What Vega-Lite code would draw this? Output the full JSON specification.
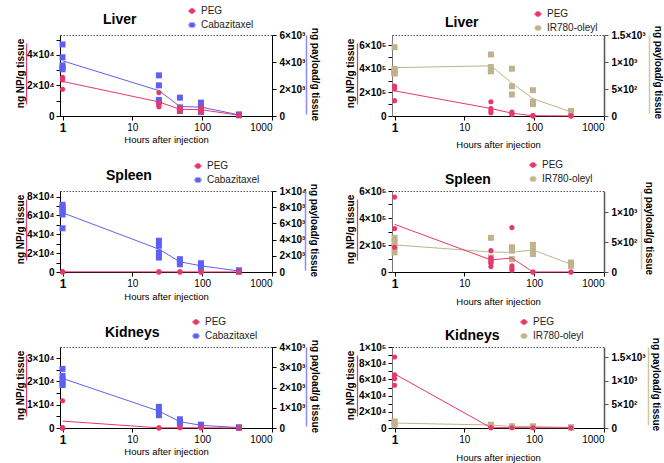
{
  "$schema": "https://vega.github.io/schema/vega-lite/v6.json",
  "autosize": {"type": "none"},
  "padding": {"left": 60, "top": 35, "right": 604, "bottom": 428},
  "background": "white",
  "bounds": "flush",
  "columns": 2,
  "spacing": {"row": 75, "column": 120},
  "data": {"values": [
    {"p":"LC","s":"PEG","h":1,"v":25400},{"p":"LC","s":"PEG","h":1,"v":24000},{"p":"LC","s":"PEG","h":1,"v":23600},{"p":"LC","s":"PEG","h":1,"v":17500},
    {"p":"LC","s":"PEG","h":24,"v":15300},{"p":"LC","s":"PEG","h":24,"v":8300},{"p":"LC","s":"PEG","h":24,"v":7200},{"p":"LC","s":"PEG","h":24,"v":6100},
    {"p":"LC","s":"PEG","h":48,"v":5700},{"p":"LC","s":"PEG","h":48,"v":4800},{"p":"LC","s":"PEG","h":48,"v":3900},{"p":"LC","s":"PEG","h":48,"v":3000},
    {"p":"LC","s":"PEG","h":96,"v":5700},{"p":"LC","s":"PEG","h":96,"v":4800},{"p":"LC","s":"PEG","h":96,"v":3500},{"p":"LC","s":"PEG","h":96,"v":2600},
    {"p":"LC","s":"PEG","h":336,"v":400},{"p":"LC","s":"PEG","h":336,"v":600},{"p":"LC","s":"PEG","h":336,"v":500},
    {"p":"LC","s":"Cabazitaxel","h":1,"v":5300},{"p":"LC","s":"Cabazitaxel","h":1,"v":4350},{"p":"LC","s":"Cabazitaxel","h":1,"v":3750},{"p":"LC","s":"Cabazitaxel","h":1,"v":3580},{"p":"LC","s":"Cabazitaxel","h":1,"v":3460},
    {"p":"LC","s":"Cabazitaxel","h":24,"v":3010},{"p":"LC","s":"Cabazitaxel","h":24,"v":2270},{"p":"LC","s":"Cabazitaxel","h":24,"v":1190},{"p":"LC","s":"Cabazitaxel","h":24,"v":1060},
    {"p":"LC","s":"Cabazitaxel","h":48,"v":1360},{"p":"LC","s":"Cabazitaxel","h":48,"v":640},{"p":"LC","s":"Cabazitaxel","h":48,"v":440},{"p":"LC","s":"Cabazitaxel","h":48,"v":370},
    {"p":"LC","s":"Cabazitaxel","h":96,"v":990},{"p":"LC","s":"Cabazitaxel","h":96,"v":690},{"p":"LC","s":"Cabazitaxel","h":96,"v":300},
    {"p":"LC","s":"Cabazitaxel","h":336,"v":120},{"p":"LC","s":"Cabazitaxel","h":336,"v":50},

    {"p":"LI","s":"PEG","h":1,"v":254000},{"p":"LI","s":"PEG","h":1,"v":239000},{"p":"LI","s":"PEG","h":1,"v":228000},{"p":"LI","s":"PEG","h":1,"v":130000},
    {"p":"LI","s":"PEG","h":24,"v":121000},{"p":"LI","s":"PEG","h":24,"v":62000},{"p":"LI","s":"PEG","h":24,"v":42000},{"p":"LI","s":"PEG","h":24,"v":28000},
    {"p":"LI","s":"PEG","h":48,"v":34000},{"p":"LI","s":"PEG","h":48,"v":23000},{"p":"LI","s":"PEG","h":48,"v":14000},
    {"p":"LI","s":"PEG","h":96,"v":3000},{"p":"LI","s":"PEG","h":96,"v":1500},{"p":"LI","s":"PEG","h":96,"v":2000},
    {"p":"LI","s":"PEG","h":336,"v":500},{"p":"LI","s":"PEG","h":336,"v":800},
    {"p":"LI","s":"IR780-oleyl","h":1,"v":1274},{"p":"LI","s":"IR780-oleyl","h":1,"v":870},{"p":"LI","s":"IR780-oleyl","h":1,"v":840},{"p":"LI","s":"IR780-oleyl","h":1,"v":810},{"p":"LI","s":"IR780-oleyl","h":1,"v":790},{"p":"LI","s":"IR780-oleyl","h":1,"v":790},
    {"p":"LI","s":"IR780-oleyl","h":24,"v":1139},{"p":"LI","s":"IR780-oleyl","h":24,"v":906},{"p":"LI","s":"IR780-oleyl","h":24,"v":845},{"p":"LI","s":"IR780-oleyl","h":24,"v":827},
    {"p":"LI","s":"IR780-oleyl","h":48,"v":876},{"p":"LI","s":"IR780-oleyl","h":48,"v":551},{"p":"LI","s":"IR780-oleyl","h":48,"v":398},
    {"p":"LI","s":"IR780-oleyl","h":96,"v":478},{"p":"LI","s":"IR780-oleyl","h":96,"v":263},{"p":"LI","s":"IR780-oleyl","h":96,"v":220},
    {"p":"LI","s":"IR780-oleyl","h":336,"v":92},{"p":"LI","s":"IR780-oleyl","h":336,"v":61},

    {"p":"SC","s":"PEG","h":1,"v":300},{"p":"SC","s":"PEG","h":1,"v":200},{"p":"SC","s":"PEG","h":1,"v":100},
    {"p":"SC","s":"PEG","h":24,"v":200},{"p":"SC","s":"PEG","h":24,"v":100},
    {"p":"SC","s":"PEG","h":48,"v":100},{"p":"SC","s":"PEG","h":48,"v":200},
    {"p":"SC","s":"PEG","h":96,"v":100},{"p":"SC","s":"PEG","h":96,"v":50},
    {"p":"SC","s":"PEG","h":336,"v":100},{"p":"SC","s":"PEG","h":336,"v":50},
    {"p":"SC","s":"Cabazitaxel","h":1,"v":8300},{"p":"SC","s":"Cabazitaxel","h":1,"v":8000},{"p":"SC","s":"Cabazitaxel","h":1,"v":7700},{"p":"SC","s":"Cabazitaxel","h":1,"v":7400},{"p":"SC","s":"Cabazitaxel","h":1,"v":7100},{"p":"SC","s":"Cabazitaxel","h":1,"v":5400},
    {"p":"SC","s":"Cabazitaxel","h":24,"v":3860},{"p":"SC","s":"Cabazitaxel","h":24,"v":3240},{"p":"SC","s":"Cabazitaxel","h":24,"v":2410},{"p":"SC","s":"Cabazitaxel","h":24,"v":1780},
    {"p":"SC","s":"Cabazitaxel","h":48,"v":1580},{"p":"SC","s":"Cabazitaxel","h":48,"v":1245},{"p":"SC","s":"Cabazitaxel","h":48,"v":950},
    {"p":"SC","s":"Cabazitaxel","h":96,"v":1080},{"p":"SC","s":"Cabazitaxel","h":96,"v":750},{"p":"SC","s":"Cabazitaxel","h":96,"v":460},
    {"p":"SC","s":"Cabazitaxel","h":336,"v":210},{"p":"SC","s":"Cabazitaxel","h":336,"v":40},

    {"p":"SI","s":"PEG","h":1,"v":555000},{"p":"SI","s":"PEG","h":1,"v":322000},{"p":"SI","s":"PEG","h":1,"v":183000},
    {"p":"SI","s":"PEG","h":24,"v":158000},{"p":"SI","s":"PEG","h":24,"v":103000},{"p":"SI","s":"PEG","h":24,"v":83000},{"p":"SI","s":"PEG","h":24,"v":63000},{"p":"SI","s":"PEG","h":24,"v":40000},
    {"p":"SI","s":"PEG","h":48,"v":329000},{"p":"SI","s":"PEG","h":48,"v":45000},{"p":"SI","s":"PEG","h":48,"v":28000},{"p":"SI","s":"PEG","h":48,"v":13000},
    {"p":"SI","s":"PEG","h":96,"v":500},{"p":"SI","s":"PEG","h":96,"v":300},
    {"p":"SI","s":"PEG","h":336,"v":300},{"p":"SI","s":"PEG","h":336,"v":200},
    {"p":"SI","s":"IR780-oleyl","h":1,"v":574},{"p":"SI","s":"IR780-oleyl","h":1,"v":500},{"p":"SI","s":"IR780-oleyl","h":1,"v":415},{"p":"SI","s":"IR780-oleyl","h":1,"v":330},
    {"p":"SI","s":"IR780-oleyl","h":24,"v":574},{"p":"SI","s":"IR780-oleyl","h":24,"v":244},{"p":"SI","s":"IR780-oleyl","h":24,"v":188},
    {"p":"SI","s":"IR780-oleyl","h":48,"v":415},{"p":"SI","s":"IR780-oleyl","h":48,"v":358},{"p":"SI","s":"IR780-oleyl","h":48,"v":216},
    {"p":"SI","s":"IR780-oleyl","h":96,"v":455},{"p":"SI","s":"IR780-oleyl","h":96,"v":358},{"p":"SI","s":"IR780-oleyl","h":96,"v":301},
    {"p":"SI","s":"IR780-oleyl","h":336,"v":159},{"p":"SI","s":"IR780-oleyl","h":336,"v":102},

    {"p":"KC","s":"PEG","h":1,"v":11700},{"p":"KC","s":"PEG","h":1,"v":50},{"p":"KC","s":"PEG","h":1,"v":50},{"p":"KC","s":"PEG","h":1,"v":50},
    {"p":"KC","s":"PEG","h":24,"v":100},{"p":"KC","s":"PEG","h":24,"v":50},
    {"p":"KC","s":"PEG","h":48,"v":100},{"p":"KC","s":"PEG","h":96,"v":100},{"p":"KC","s":"PEG","h":336,"v":50},
    {"p":"KC","s":"Cabazitaxel","h":1,"v":2920},{"p":"KC","s":"Cabazitaxel","h":1,"v":2570},{"p":"KC","s":"Cabazitaxel","h":1,"v":2420},{"p":"KC","s":"Cabazitaxel","h":1,"v":2210},{"p":"KC","s":"Cabazitaxel","h":1,"v":2120},
    {"p":"KC","s":"Cabazitaxel","h":24,"v":1045},{"p":"KC","s":"Cabazitaxel","h":24,"v":830},{"p":"KC","s":"Cabazitaxel","h":24,"v":630},
    {"p":"KC","s":"Cabazitaxel","h":48,"v":430},{"p":"KC","s":"Cabazitaxel","h":48,"v":300},{"p":"KC","s":"Cabazitaxel","h":48,"v":215},
    {"p":"KC","s":"Cabazitaxel","h":96,"v":165},{"p":"KC","s":"Cabazitaxel","h":96,"v":100},
    {"p":"KC","s":"Cabazitaxel","h":336,"v":35},{"p":"KC","s":"Cabazitaxel","h":336,"v":10},

    {"p":"KI","s":"PEG","h":1,"v":87700},{"p":"KI","s":"PEG","h":1,"v":65800},{"p":"KI","s":"PEG","h":1,"v":60900},{"p":"KI","s":"PEG","h":1,"v":52700},
    {"p":"KI","s":"PEG","h":24,"v":500},{"p":"KI","s":"PEG","h":24,"v":300},
    {"p":"KI","s":"PEG","h":48,"v":400},{"p":"KI","s":"PEG","h":96,"v":300},{"p":"KI","s":"PEG","h":336,"v":200},
    {"p":"KI","s":"IR780-oleyl","h":1,"v":140},{"p":"KI","s":"IR780-oleyl","h":1,"v":105},{"p":"KI","s":"IR780-oleyl","h":1,"v":70},
    {"p":"KI","s":"IR780-oleyl","h":24,"v":70},{"p":"KI","s":"IR780-oleyl","h":24,"v":57},
    {"p":"KI","s":"IR780-oleyl","h":48,"v":35},{"p":"KI","s":"IR780-oleyl","h":48,"v":30},
    {"p":"KI","s":"IR780-oleyl","h":96,"v":35},{"p":"KI","s":"IR780-oleyl","h":96,"v":25},
    {"p":"KI","s":"IR780-oleyl","h":336,"v":14},{"p":"KI","s":"IR780-oleyl","h":336,"v":10}
  ]},
  "concat": [
    {
      "title": {"text": "Liver", "dx": 43, "offset": -21},
      "width": 212, "height": 81,
      "transform": [{"filter": "datum.p == 'LC'"}],
      "encoding": {
        "x": {"field": "h", "type": "quantitative", "scale": {"type": "log", "domain": [0.92, 1000]}, "axis": {"values": [1, 10, 100, 1000], "format": "d", "title": "Hours after injection", "titleX": 106, "titleY": 26, "titleBaseline": "alphabetic", "titleFontWeight": "normal", "titleFontSize": 9.5, "labelFontWeight": {"condition": {"test": "datum.value == 1", "value": "bold"}, "value": "normal"}, "labelFontSize": {"condition": {"test": "datum.value == 1", "value": 12}, "value": 10}}},
        "color": {"field": "s", "type": "nominal", "scale": {"domain": ["PEG", "Cabazitaxel"], "range": ["#E8386B", "#5F5FF2"]},
          "legend": {"title": null, "orient": "none", "legendX": 127, "legendY": -29,
            "encode": {"symbols": {"update": {
              "shape": {"signal": "datum.value == 'PEG' ? 'M-1,0L1,0M0.55,0A0.55,0.55,0,1,1,-0.55,0A0.55,0.55,0,1,1,0.55,0Z' : 'M-1,0L1,0M-0.5,-0.5L0.5,-0.5L0.5,0.5L-0.5,0.5Z'"},
              "fill": {"signal": "datum.value == 'PEG' ? '#E8386B' : datum.value == 'Cabazitaxel' ? '#5F5FF2' : '#BFB28C'"},
              "stroke": {"signal": "datum.value == 'PEG' ? '#E8386B' : datum.value == 'Cabazitaxel' ? '#5F5FF2' : '#BFB28C'"},
              "strokeWidth": {"value": 1.2}, "opacity": {"value": 1}}}}}}
      },
      "layer": [
        {"transform": [{"filter": "datum.s != 'PEG'"}], "mark": {"type": "line", "strokeWidth": 1}, "encoding": {"y": {"aggregate": "mean", "field": "v", "type": "quantitative", "scale": {"domain": [0, 6000]}, "axis": null}}},
        {"transform": [{"filter": "datum.s != 'PEG'"}], "mark": {"type": "point", "shape": "square", "filled": true, "opacity": 1, "size": 36}, "encoding": {"y": {"field": "v", "type": "quantitative", "scale": {"domain": [0, 6000]}, "axis": {"orient": "right", "values": [0, 2000, 4000, 6000], "labelPadding": 3, "labelExpr": "datum.value == 0 ? '0' : datum.value / 1000 + '×10³'", "title": "ng payload/g tissue", "titleAngle": 90, "titleX": 37, "titleY": 39}}}},
        {"transform": [{"filter": "datum.s == 'PEG'"}], "mark": {"type": "line", "strokeWidth": 1}, "encoding": {"y": {"aggregate": "mean", "field": "v", "type": "quantitative", "scale": {"domain": [0, 53000]}, "axis": null}}},
        {"transform": [{"filter": "datum.s == 'PEG'"}], "mark": {"type": "point", "shape": "circle", "filled": true, "opacity": 1, "size": 26}, "encoding": {"y": {"field": "v", "type": "quantitative", "scale": {"domain": [0, 53000]}, "axis": {"orient": "left", "values": [0, 10000, 20000, 30000, 40000, 50000], "labelExpr": "datum.value % 20000 == 0 ? (datum.value == 0 ? '0' : datum.value / 10000 + '×10⁴') : ''", "title": "ng NP/g tissue", "titleAngle": -90, "titleX": -35, "titleY": 38}}}},
        {"transform": [{"filter": "datum.s == 'PEG'"}], "mark": {"type": "point", "opacity": 0}, "encoding": {"y": {"field": "v", "type": "quantitative", "scale": {"range": [69, 8]}, "axis": {"orient": "left", "offset": 34, "domainColor": "#E8386B", "domainWidth": 1.2, "ticks": false, "labels": false, "title": null}}}},
        {"transform": [{"filter": "datum.s == 'PEG'"}], "mark": {"type": "point", "opacity": 0}, "encoding": {"y": {"field": "v", "type": "quantitative", "scale": {"range": [79, 0]}, "axis": {"orient": "right", "offset": 34, "domainColor": "#8A8AF8", "domainWidth": 1.5, "ticks": false, "labels": false, "title": null}}}}
      ],
      "resolve": {"scale": {"y": "independent"}, "axis": {"y": "independent"}}
    },
    {
      "title": {"text": "Liver", "dx": 53, "offset": -21},
      "width": 212, "height": 81,
      "transform": [{"filter": "datum.p == 'LI'"}],
      "encoding": {
        "x": {"field": "h", "type": "quantitative", "scale": {"type": "log", "domain": [0.92, 1000]}, "axis": {"values": [1, 10, 100, 1000], "format": "d", "title": "Hours after injection", "titleX": 106, "titleY": 31, "titleBaseline": "alphabetic", "titleFontWeight": "normal", "titleFontSize": 9.5, "labelFontWeight": {"condition": {"test": "datum.value == 1", "value": "bold"}, "value": "normal"}, "labelFontSize": {"condition": {"test": "datum.value == 1", "value": 12}, "value": 10}}},
        "color": {"field": "s", "type": "nominal", "scale": {"domain": ["PEG", "IR780-oleyl"], "range": ["#E8386B", "#BFB28C"]},
          "legend": {"title": null, "orient": "none", "legendX": 141, "legendY": -26,
            "encode": {"symbols": {"update": {
              "shape": {"signal": "datum.value == 'PEG' ? 'M-1,0L1,0M0.55,0A0.55,0.55,0,1,1,-0.55,0A0.55,0.55,0,1,1,0.55,0Z' : 'M-1,0L1,0M-0.5,-0.5L0.5,-0.5L0.5,0.5L-0.5,0.5Z'"},
              "fill": {"signal": "datum.value == 'PEG' ? '#E8386B' : datum.value == 'Cabazitaxel' ? '#5F5FF2' : '#BFB28C'"},
              "stroke": {"signal": "datum.value == 'PEG' ? '#E8386B' : datum.value == 'Cabazitaxel' ? '#5F5FF2' : '#BFB28C'"},
              "strokeWidth": {"value": 1.2}, "opacity": {"value": 1}}}}}}
      },
      "layer": [
        {"transform": [{"filter": "datum.s != 'PEG'"}], "mark": {"type": "line", "strokeWidth": 1}, "encoding": {"y": {"aggregate": "mean", "field": "v", "type": "quantitative", "scale": {"domain": [0, 1500]}, "axis": null}}},
        {"transform": [{"filter": "datum.s != 'PEG'"}], "mark": {"type": "point", "shape": "square", "filled": true, "opacity": 1, "size": 36}, "encoding": {"y": {"field": "v", "type": "quantitative", "scale": {"domain": [0, 1500]}, "axis": {"orient": "right", "values": [0, 500, 1000, 1500], "labelPadding": 3, "domainColor": "#555", "domainWidth": 1.5, "tickColor": "#555", "labelExpr": "datum.value == 0 ? '0' : datum.value == 500 ? '5×10²' : datum.value == 1000 ? '1×10³' : '1.5×10³'", "title": "ng payload/g tissue", "titleAngle": 90, "titleX": 48, "titleY": 37}}}},
        {"transform": [{"filter": "datum.s == 'PEG'"}], "mark": {"type": "line", "strokeWidth": 1}, "encoding": {"y": {"aggregate": "mean", "field": "v", "type": "quantitative", "scale": {"domain": [0, 685000]}, "axis": null}}},
        {"transform": [{"filter": "datum.s == 'PEG'"}], "mark": {"type": "point", "shape": "circle", "filled": true, "opacity": 1, "size": 26}, "encoding": {"y": {"field": "v", "type": "quantitative", "scale": {"domain": [0, 685000]}, "axis": {"orient": "left", "domainColor": "#777", "values": [0, 100000, 200000, 300000, 400000, 500000, 600000], "labelExpr": "datum.value % 200000 == 0 ? (datum.value == 0 ? '0' : datum.value / 100000 + '×10⁵') : ''", "title": "ng NP/g tissue", "titleAngle": -90, "titleX": -37, "titleY": 38}}}},
        {"transform": [{"filter": "datum.s == 'PEG'"}], "mark": {"type": "point", "opacity": 0}, "encoding": {"y": {"field": "v", "type": "quantitative", "scale": {"range": [69, 8]}, "axis": {"orient": "left", "offset": 35, "domainColor": "#E8386B", "domainWidth": 1.2, "ticks": false, "labels": false, "title": null}}}},
        {"transform": [{"filter": "datum.s == 'PEG'"}], "mark": {"type": "point", "opacity": 0}, "encoding": {"y": {"field": "v", "type": "quantitative", "scale": {"range": [78, 0]}, "axis": {"orient": "right", "offset": 45, "domainColor": "#CFC5A5", "domainWidth": 1.5, "ticks": false, "labels": false, "title": null}}}}
      ],
      "resolve": {"scale": {"y": "independent"}, "axis": {"y": "independent"}}
    },
    {
      "title": {"text": "Spleen", "dx": 46, "offset": -22},
      "width": 212, "height": 81,
      "transform": [{"filter": "datum.p == 'SC'"}],
      "encoding": {
        "x": {"field": "h", "type": "quantitative", "scale": {"type": "log", "domain": [0.92, 1000]}, "axis": {"values": [1, 10, 100, 1000], "format": "d", "title": "Hours after injection", "titleX": 106, "titleY": 27, "titleBaseline": "alphabetic", "titleFontWeight": "normal", "titleFontSize": 9.5, "labelFontWeight": {"condition": {"test": "datum.value == 1", "value": "bold"}, "value": "normal"}, "labelFontSize": {"condition": {"test": "datum.value == 1", "value": 12}, "value": 10}}},
        "color": {"field": "s", "type": "nominal", "scale": {"domain": ["PEG", "Cabazitaxel"], "range": ["#E8386B", "#5F5FF2"]},
          "legend": {"title": null, "orient": "none", "legendX": 133, "legendY": -30,
            "encode": {"symbols": {"update": {
              "shape": {"signal": "datum.value == 'PEG' ? 'M-1,0L1,0M0.55,0A0.55,0.55,0,1,1,-0.55,0A0.55,0.55,0,1,1,0.55,0Z' : 'M-1,0L1,0M-0.5,-0.5L0.5,-0.5L0.5,0.5L-0.5,0.5Z'"},
              "fill": {"signal": "datum.value == 'PEG' ? '#E8386B' : datum.value == 'Cabazitaxel' ? '#5F5FF2' : '#BFB28C'"},
              "stroke": {"signal": "datum.value == 'PEG' ? '#E8386B' : datum.value == 'Cabazitaxel' ? '#5F5FF2' : '#BFB28C'"},
              "strokeWidth": {"value": 1.2}, "opacity": {"value": 1}}}}}}
      },
      "layer": [
        {"transform": [{"filter": "datum.s != 'PEG'"}], "mark": {"type": "line", "strokeWidth": 1}, "encoding": {"y": {"aggregate": "mean", "field": "v", "type": "quantitative", "scale": {"domain": [0, 10000]}, "axis": null}}},
        {"transform": [{"filter": "datum.s != 'PEG'"}], "mark": {"type": "point", "shape": "square", "filled": true, "opacity": 1, "size": 36}, "encoding": {"y": {"field": "v", "type": "quantitative", "scale": {"domain": [0, 10000]}, "axis": {"orient": "right", "values": [0, 2000, 4000, 6000, 8000, 10000], "labelPadding": 3, "labelExpr": "datum.value == 0 ? '0' : datum.value == 10000 ? '1×10⁴' : datum.value / 1000 + '×10³'", "title": "ng payload/g tissue", "titleAngle": 90, "titleX": 36, "titleY": 39}}}},
        {"transform": [{"filter": "datum.s == 'PEG'"}], "mark": {"type": "line", "strokeWidth": 1}, "encoding": {"y": {"aggregate": "mean", "field": "v", "type": "quantitative", "scale": {"domain": [0, 86000]}, "axis": null}}},
        {"transform": [{"filter": "datum.s == 'PEG'"}], "mark": {"type": "point", "shape": "circle", "filled": true, "opacity": 1, "size": 26}, "encoding": {"y": {"field": "v", "type": "quantitative", "scale": {"domain": [0, 86000]}, "axis": {"orient": "left", "values": [0, 10000, 20000, 30000, 40000, 50000, 60000, 70000, 80000], "labelExpr": "datum.value % 20000 == 0 ? (datum.value == 0 ? '0' : datum.value / 10000 + '×10⁴') : ''", "title": "ng NP/g tissue", "titleAngle": -90, "titleX": -35, "titleY": 38}}}},
        {"transform": [{"filter": "datum.s == 'PEG'"}], "mark": {"type": "point", "opacity": 0}, "encoding": {"y": {"field": "v", "type": "quantitative", "scale": {"range": [69, 8]}, "axis": {"orient": "left", "offset": 34, "domainColor": "#E8386B", "domainWidth": 1.2, "ticks": false, "labels": false, "title": null}}}},
        {"transform": [{"filter": "datum.s == 'PEG'"}], "mark": {"type": "point", "opacity": 0}, "encoding": {"y": {"field": "v", "type": "quantitative", "scale": {"range": [79, 0]}, "axis": {"orient": "right", "offset": 33, "domainColor": "#8A8AF8", "domainWidth": 1.5, "ticks": false, "labels": false, "title": null}}}}
      ],
      "resolve": {"scale": {"y": "independent"}, "axis": {"y": "independent"}}
    },
    {
      "title": {"text": "Spleen", "dx": 53, "offset": -27},
      "width": 212, "height": 81,
      "transform": [{"filter": "datum.p == 'SI'"}],
      "encoding": {
        "x": {"field": "h", "type": "quantitative", "scale": {"type": "log", "domain": [0.92, 1000]}, "axis": {"values": [1, 10, 100, 1000], "format": "d", "title": "Hours after injection", "titleX": 106, "titleY": 32, "titleBaseline": "alphabetic", "titleFontWeight": "normal", "titleFontSize": 9.5, "labelFontWeight": {"condition": {"test": "datum.value == 1", "value": "bold"}, "value": "normal"}, "labelFontSize": {"condition": {"test": "datum.value == 1", "value": 12}, "value": 10}}},
        "color": {"field": "s", "type": "nominal", "scale": {"domain": ["PEG", "IR780-oleyl"], "range": ["#E8386B", "#BFB28C"]},
          "legend": {"title": null, "orient": "none", "legendX": 136, "legendY": -31,
            "encode": {"symbols": {"update": {
              "shape": {"signal": "datum.value == 'PEG' ? 'M-1,0L1,0M0.55,0A0.55,0.55,0,1,1,-0.55,0A0.55,0.55,0,1,1,0.55,0Z' : 'M-1,0L1,0M-0.5,-0.5L0.5,-0.5L0.5,0.5L-0.5,0.5Z'"},
              "fill": {"signal": "datum.value == 'PEG' ? '#E8386B' : datum.value == 'Cabazitaxel' ? '#5F5FF2' : '#BFB28C'"},
              "stroke": {"signal": "datum.value == 'PEG' ? '#E8386B' : datum.value == 'Cabazitaxel' ? '#5F5FF2' : '#BFB28C'"},
              "strokeWidth": {"value": 1.2}, "opacity": {"value": 1}}}}}}
      },
      "layer": [
        {"transform": [{"filter": "datum.s != 'PEG'"}], "mark": {"type": "line", "strokeWidth": 1}, "encoding": {"y": {"aggregate": "mean", "field": "v", "type": "quantitative", "scale": {"domain": [0, 1360]}, "axis": null}}},
        {"transform": [{"filter": "datum.s != 'PEG'"}], "mark": {"type": "point", "shape": "square", "filled": true, "opacity": 1, "size": 36}, "encoding": {"y": {"field": "v", "type": "quantitative", "scale": {"domain": [0, 1360]}, "axis": {"orient": "right", "values": [0, 500, 1000], "labelPadding": 3, "domainColor": "#555", "domainWidth": 1.5, "tickColor": "#555", "labelExpr": "datum.value == 0 ? '0' : datum.value == 500 ? '5×10²' : datum.value == 1000 ? '1×10³' : '1.5×10³'", "title": "ng payload/g tissue", "titleAngle": 90, "titleX": 39, "titleY": 37}}}},
        {"transform": [{"filter": "datum.s == 'PEG'"}], "mark": {"type": "line", "strokeWidth": 1}, "encoding": {"y": {"aggregate": "mean", "field": "v", "type": "quantitative", "scale": {"domain": [0, 600000]}, "axis": null}}},
        {"transform": [{"filter": "datum.s == 'PEG'"}], "mark": {"type": "point", "shape": "circle", "filled": true, "opacity": 1, "size": 26}, "encoding": {"y": {"field": "v", "type": "quantitative", "scale": {"domain": [0, 600000]}, "axis": {"orient": "left", "domainColor": "#777", "values": [0, 100000, 200000, 300000, 400000, 500000, 600000], "labelExpr": "datum.value % 200000 == 0 ? (datum.value == 0 ? '0' : datum.value / 100000 + '×10⁵') : ''", "title": "ng NP/g tissue", "titleAngle": -90, "titleX": -37, "titleY": 38}}}},
        {"transform": [{"filter": "datum.s == 'PEG'"}], "mark": {"type": "point", "opacity": 0}, "encoding": {"y": {"field": "v", "type": "quantitative", "scale": {"range": [69, 8]}, "axis": {"orient": "left", "offset": 35, "domainColor": "#E8386B", "domainWidth": 1.2, "ticks": false, "labels": false, "title": null}}}},
        {"transform": [{"filter": "datum.s == 'PEG'"}], "mark": {"type": "point", "opacity": 0}, "encoding": {"y": {"field": "v", "type": "quantitative", "scale": {"range": [78, 0]}, "axis": {"orient": "right", "offset": 37, "domainColor": "#CFC5A5", "domainWidth": 1.5, "ticks": false, "labels": false, "title": null}}}}
      ],
      "resolve": {"scale": {"y": "independent"}, "axis": {"y": "independent"}}
    },
    {
      "title": {"text": "Kidneys", "dx": 45, "offset": -23},
      "width": 212, "height": 81,
      "transform": [{"filter": "datum.p == 'KC'"}],
      "encoding": {
        "x": {"field": "h", "type": "quantitative", "scale": {"type": "log", "domain": [0.92, 1000]}, "axis": {"values": [1, 10, 100, 1000], "format": "d", "title": "Hours after injection", "titleX": 106, "titleY": 26, "titleBaseline": "alphabetic", "titleFontWeight": "normal", "titleFontSize": 9.5, "labelFontWeight": {"condition": {"test": "datum.value == 1", "value": "bold"}, "value": "normal"}, "labelFontSize": {"condition": {"test": "datum.value == 1", "value": 12}, "value": 10}}},
        "color": {"field": "s", "type": "nominal", "scale": {"domain": ["PEG", "Cabazitaxel"], "range": ["#E8386B", "#5F5FF2"]},
          "legend": {"title": null, "orient": "none", "legendX": 131, "legendY": -30,
            "encode": {"symbols": {"update": {
              "shape": {"signal": "datum.value == 'PEG' ? 'M-1,0L1,0M0.55,0A0.55,0.55,0,1,1,-0.55,0A0.55,0.55,0,1,1,0.55,0Z' : 'M-1,0L1,0M-0.5,-0.5L0.5,-0.5L0.5,0.5L-0.5,0.5Z'"},
              "fill": {"signal": "datum.value == 'PEG' ? '#E8386B' : datum.value == 'Cabazitaxel' ? '#5F5FF2' : '#BFB28C'"},
              "stroke": {"signal": "datum.value == 'PEG' ? '#E8386B' : datum.value == 'Cabazitaxel' ? '#5F5FF2' : '#BFB28C'"},
              "strokeWidth": {"value": 1.2}, "opacity": {"value": 1}}}}}}
      },
      "layer": [
        {"transform": [{"filter": "datum.s != 'PEG'"}], "mark": {"type": "line", "strokeWidth": 1}, "encoding": {"y": {"aggregate": "mean", "field": "v", "type": "quantitative", "scale": {"domain": [0, 4000]}, "axis": null}}},
        {"transform": [{"filter": "datum.s != 'PEG'"}], "mark": {"type": "point", "shape": "square", "filled": true, "opacity": 1, "size": 36}, "encoding": {"y": {"field": "v", "type": "quantitative", "scale": {"domain": [0, 4000]}, "axis": {"orient": "right", "values": [0, 1000, 2000, 3000, 4000], "labelPadding": 3, "labelExpr": "datum.value == 0 ? '0' : datum.value / 1000 + '×10³'", "title": "ng payload/g tissue", "titleAngle": 90, "titleX": 37, "titleY": 39}}}},
        {"transform": [{"filter": "datum.s == 'PEG'"}], "mark": {"type": "line", "strokeWidth": 1}, "encoding": {"y": {"aggregate": "mean", "field": "v", "type": "quantitative", "scale": {"domain": [0, 34800]}, "axis": null}}},
        {"transform": [{"filter": "datum.s == 'PEG'"}], "mark": {"type": "point", "shape": "circle", "filled": true, "opacity": 1, "size": 26}, "encoding": {"y": {"field": "v", "type": "quantitative", "scale": {"domain": [0, 34800]}, "axis": {"orient": "left", "values": [0, 5000, 10000, 15000, 20000, 25000, 30000], "labelExpr": "datum.value % 10000 == 0 ? (datum.value == 0 ? '0' : datum.value / 10000 + '×10⁴') : ''", "title": "ng NP/g tissue", "titleAngle": -90, "titleX": -35, "titleY": 38}}}},
        {"transform": [{"filter": "datum.s == 'PEG'"}], "mark": {"type": "point", "opacity": 0}, "encoding": {"y": {"field": "v", "type": "quantitative", "scale": {"range": [69, 8]}, "axis": {"orient": "left", "offset": 34, "domainColor": "#E8386B", "domainWidth": 1.2, "ticks": false, "labels": false, "title": null}}}},
        {"transform": [{"filter": "datum.s == 'PEG'"}], "mark": {"type": "point", "opacity": 0}, "encoding": {"y": {"field": "v", "type": "quantitative", "scale": {"range": [79, 0]}, "axis": {"orient": "right", "offset": 34, "domainColor": "#8A8AF8", "domainWidth": 1.5, "ticks": false, "labels": false, "title": null}}}}
      ],
      "resolve": {"scale": {"y": "independent"}, "axis": {"y": "independent"}}
    },
    {
      "title": {"text": "Kidneys", "dx": 53, "offset": -26},
      "width": 212, "height": 81,
      "transform": [{"filter": "datum.p == 'KI'"}],
      "encoding": {
        "x": {"field": "h", "type": "quantitative", "scale": {"type": "log", "domain": [0.92, 1000]}, "axis": {"values": [1, 10, 100, 1000], "format": "d", "title": "Hours after injection", "titleX": 106, "titleY": 32, "titleBaseline": "alphabetic", "titleFontWeight": "normal", "titleFontSize": 9.5, "labelFontWeight": {"condition": {"test": "datum.value == 1", "value": "bold"}, "value": "normal"}, "labelFontSize": {"condition": {"test": "datum.value == 1", "value": 12}, "value": 10}}},
        "color": {"field": "s", "type": "nominal", "scale": {"domain": ["PEG", "IR780-oleyl"], "range": ["#E8386B", "#BFB28C"]},
          "legend": {"title": null, "orient": "none", "legendX": 127, "legendY": -30,
            "encode": {"symbols": {"update": {
              "shape": {"signal": "datum.value == 'PEG' ? 'M-1,0L1,0M0.55,0A0.55,0.55,0,1,1,-0.55,0A0.55,0.55,0,1,1,0.55,0Z' : 'M-1,0L1,0M-0.5,-0.5L0.5,-0.5L0.5,0.5L-0.5,0.5Z'"},
              "fill": {"signal": "datum.value == 'PEG' ? '#E8386B' : datum.value == 'Cabazitaxel' ? '#5F5FF2' : '#BFB28C'"},
              "stroke": {"signal": "datum.value == 'PEG' ? '#E8386B' : datum.value == 'Cabazitaxel' ? '#5F5FF2' : '#BFB28C'"},
              "strokeWidth": {"value": 1.2}, "opacity": {"value": 1}}}}}}
      },
      "layer": [
        {"transform": [{"filter": "datum.s != 'PEG'"}], "mark": {"type": "line", "strokeWidth": 1}, "encoding": {"y": {"aggregate": "mean", "field": "v", "type": "quantitative", "scale": {"domain": [0, 1720]}, "axis": null}}},
        {"transform": [{"filter": "datum.s != 'PEG'"}], "mark": {"type": "point", "shape": "square", "filled": true, "opacity": 1, "size": 36}, "encoding": {"y": {"field": "v", "type": "quantitative", "scale": {"domain": [0, 1720]}, "axis": {"orient": "right", "values": [0, 500, 1000, 1500], "labelPadding": 3, "domainColor": "#555", "domainWidth": 1.5, "tickColor": "#555", "labelExpr": "datum.value == 0 ? '0' : datum.value == 500 ? '5×10²' : datum.value == 1000 ? '1×10³' : '1.5×10³'", "title": "ng payload/g tissue", "titleAngle": 90, "titleX": 46, "titleY": 37}}}},
        {"transform": [{"filter": "datum.s == 'PEG'"}], "mark": {"type": "line", "strokeWidth": 1}, "encoding": {"y": {"aggregate": "mean", "field": "v", "type": "quantitative", "scale": {"domain": [0, 100000]}, "axis": null}}},
        {"transform": [{"filter": "datum.s == 'PEG'"}], "mark": {"type": "point", "shape": "circle", "filled": true, "opacity": 1, "size": 26}, "encoding": {"y": {"field": "v", "type": "quantitative", "scale": {"domain": [0, 100000]}, "axis": {"orient": "left", "domainColor": "#777", "values": [0, 10000, 20000, 30000, 40000, 50000, 60000, 70000, 80000, 90000, 100000], "labelExpr": "datum.value == 0 ? '0' : datum.value == 100000 ? '1×10⁵' : datum.value % 20000 == 0 ? datum.value / 10000 + '×10⁴' : ''", "title": "ng NP/g tissue", "titleAngle": -90, "titleX": -37, "titleY": 38}}}},
        {"transform": [{"filter": "datum.s == 'PEG'"}], "mark": {"type": "point", "opacity": 0}, "encoding": {"y": {"field": "v", "type": "quantitative", "scale": {"range": [69, 8]}, "axis": {"orient": "left", "offset": 35, "domainColor": "#E8386B", "domainWidth": 1.2, "ticks": false, "labels": false, "title": null}}}},
        {"transform": [{"filter": "datum.s == 'PEG'"}], "mark": {"type": "point", "opacity": 0}, "encoding": {"y": {"field": "v", "type": "quantitative", "scale": {"range": [78, 0]}, "axis": {"orient": "right", "offset": 44, "domainColor": "#CFC5A5", "domainWidth": 1.5, "ticks": false, "labels": false, "title": null}}}}
      ],
      "resolve": {"scale": {"y": "independent"}, "axis": {"y": "independent"}}
    }
  ],
  "resolve": {"scale": {"color": "independent"}, "legend": {"color": "independent"}},
  "config": {
    "font": "Liberation Sans",
    "view": {"stroke": "#555", "strokeDash": [1.5, 1.5], "strokeWidth": 1},
    "axis": {"grid": false, "domainColor": "#000", "tickColor": "#000", "tickSize": 4, "labelFontSize": 10, "labelFontWeight": "bold", "labelColor": "#000", "labelPadding": 2, "titleFontSize": 10, "titleFontWeight": "bold", "titleColor": "#000", "titleAlign": "center", "titleBaseline": "bottom"},
    "legend": {"labelFontSize": 10, "labelColor": "#222", "symbolSize": 64, "rowPadding": 4, "padding": 0, "labelOffset": 4},
    "title": {"fontSize": 14, "fontWeight": "bold", "color": "#000", "anchor": "start", "frame": "group"}
  }
}
